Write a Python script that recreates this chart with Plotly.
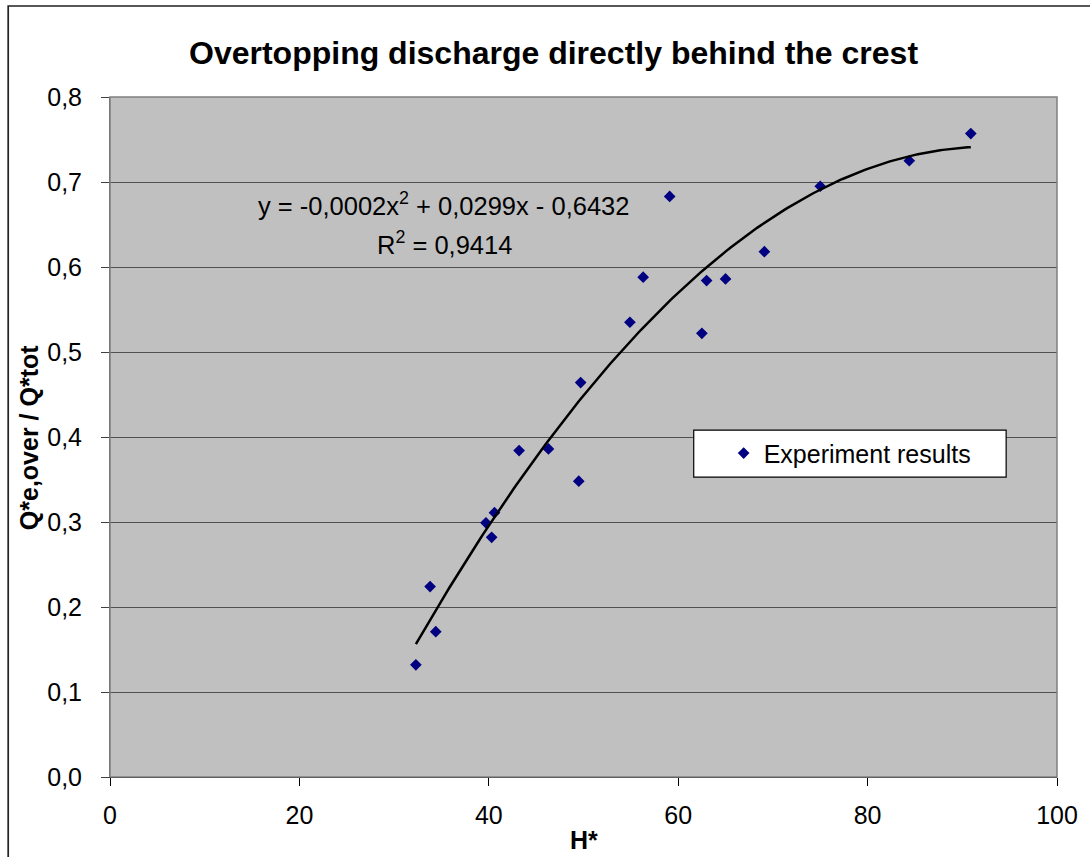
import numpy as np
import plotly.graph_objects as go

# Measured points: dimensionless wave height vs. share of overtopping discharge
h_star = [32.3, 33.8, 34.4, 39.7, 40.3, 40.6, 43.2, 46.3, 49.5, 49.7,
          54.9, 56.3, 59.1, 62.5, 63.0, 65.0, 69.1, 75.0, 84.4, 90.9]
q_ratio = [0.132, 0.224, 0.171, 0.299, 0.282, 0.311, 0.384, 0.386, 0.348, 0.464,
           0.535, 0.588, 0.683, 0.522, 0.584, 0.586, 0.618, 0.695, 0.725, 0.757]

x_ticks = [0, 20, 40, 60, 80, 100]
y_ticks = [0.0, 0.1, 0.2, 0.3, 0.4, 0.5, 0.6, 0.7, 0.8]

title_text = "Overtopping discharge directly behind the crest"
x_title = "H*"
y_title = "Q*e,over / Q*tot"
series_name = "Experiment results"
eq_text = "y = -0,0002x<sup>2</sup> + 0,0299x - 0,6432"
r2_text = "R<sup>2</sup> = 0,9414"

FONT = "Liberation Sans, Arial, sans-serif"

# Second-order polynomial trendline fitted to the measurements
coef = np.polyfit(h_star, q_ratio, 2)
x_fit = np.linspace(min(h_star), max(h_star), 200)
y_fit = np.polyval(coef, x_fit)

fig = go.Figure()

fig.add_trace(go.Scatter(
    x=h_star, y=q_ratio, mode="markers", name=series_name,
    marker=dict(symbol="diamond", size=9, color="#000080"),
    showlegend=True,
))
fig.add_trace(go.Scatter(
    x=x_fit, y=y_fit, mode="lines", name="Poly. trend",
    line=dict(color="black", width=2.5),
    showlegend=False, hoverinfo="skip",
))

fig.update_layout(
    width=1090, height=857,
    margin=dict(l=110, r=31, t=97, b=80),
    paper_bgcolor="white",
    plot_bgcolor="#C0C0C0",
    separators=", ",
    font=dict(family=FONT, size=25, color="black"),
    showlegend=True,
    legend=dict(
        x=0.648, y=0.476, xanchor="left", yanchor="middle",
        bgcolor="rgba(0,0,0,0)", borderwidth=0,
        font=dict(family=FONT, size=25, color="black"),
    ),
)

fig.update_xaxes(
    range=[0, 100], tickvals=x_ticks,
    showgrid=False, zeroline=False,
    showline=True, linecolor="black", linewidth=1,
    ticks="outside", ticklen=8, tickcolor="black",
    ticklabelstandoff=8,
    tickfont=dict(family=FONT, size=25),
)
fig.update_yaxes(
    range=[0, 0.8], tickvals=y_ticks, tickformat=".1f",
    showgrid=True, gridcolor="#505050", gridwidth=1,
    zeroline=False,
    showline=True, linecolor="#606060", linewidth=1,
    ticks="outside", ticklen=8, tickcolor="#404040",
    ticklabelstandoff=14,
    tickfont=dict(family=FONT, size=25),
)

# Plot-area border, legend box and outer chart frame
fig.add_shape(type="rect", xref="paper", yref="paper", x0=0, x1=1, y0=0, y1=1,
              line=dict(color="#808080", width=1.5), layer="above")
fig.add_shape(type="rect", xref="paper", yref="paper",
              x0=0.6164, x1=0.9463, y0=0.441, y1=0.510,
              line=dict(color="black", width=1.2), fillcolor="white", layer="above")
fig.add_shape(type="rect", xref="paper", yref="paper",
              x0=-0.1075, x1=1.05, y0=-0.15, y1=1.1338,
              line=dict(color="#222222", width=1.7), layer="above")

annotations = [
    dict(text="<b>" + title_text + "</b>", xref="paper", yref="paper",
         x=(554.5 - 110) / 949, y=(777 - 53) / 680, xanchor="center", yanchor="middle",
         showarrow=False, font=dict(family=FONT, size=32)),
    dict(text="<b>" + x_title + "</b>", xref="paper", yref="paper",
         x=(585 - 110) / 949, y=(777 - 840) / 680, xanchor="center", yanchor="middle",
         showarrow=False, font=dict(family=FONT, size=25)),
    dict(text="<b>" + y_title + "</b>", xref="paper", yref="paper",
         x=(29 - 110) / 949, y=(777 - 438) / 680, xanchor="center", yanchor="middle",
         textangle=-90, showarrow=False, font=dict(family=FONT, size=25)),
    dict(text=eq_text, xref="x", yref="y", x=35.2, y=0.674,
         xanchor="center", yanchor="middle", showarrow=False,
         font=dict(family=FONT, size=25.5)),
    dict(text=r2_text, xref="x", yref="y", x=35.3, y=0.628,
         xanchor="center", yanchor="middle", showarrow=False,
         font=dict(family=FONT, size=25.5)),
]
fig.update_layout(annotations=annotations)

fig.write_html("out.html")
